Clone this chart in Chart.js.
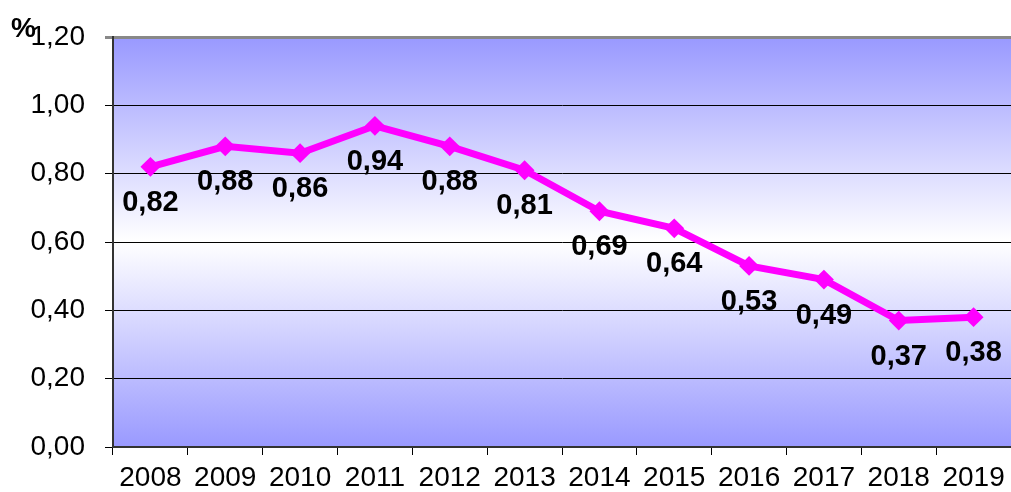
<!DOCTYPE html>
<html>
<head>
<meta charset="utf-8">
<script src="https://cdn.jsdelivr.net/npm/chart.js@4"></script>
<style>
  html, body { margin: 0; padding: 0; background: #fff; }
  #wrap { width: 1011px; height: 492px; }
</style>
</head>
<body>
<div id="wrap"><canvas id="chart" width="1011" height="492"></canvas></div>
<script>
const years = ['2008', '2009', '2010', '2011', '2012', '2013', '2014', '2015', '2016', '2017', '2018', '2019'];
const values = [0.82, 0.88, 0.86, 0.94, 0.88, 0.81, 0.69, 0.64, 0.53, 0.49, 0.37, 0.38];
const yMin = 0;
const yMax = 1.2;
const yStep = 0.2;
const unitLabel = '%';

const fmt = v => v.toFixed(2).replace('.', ',');
const FONT = '"Liberation Sans", Arial, sans-serif';

// blue-white-blue band behind the plot
const bgPlugin = {
  id: 'bg',
  beforeDraw(chart) {
    const { ctx, chartArea: a } = chart;
    const g = ctx.createLinearGradient(0, a.top, 0, a.bottom);
    g.addColorStop(0, '#9999ff');
    g.addColorStop(0.5, '#ffffff');
    g.addColorStop(1, '#9999ff');
    ctx.save();
    ctx.fillStyle = g;
    ctx.fillRect(a.left, a.top, a.right - a.left, a.bottom - a.top);
    ctx.restore();
  }
};

// values under each point + the unit sign
const labelPlugin = {
  id: 'vals',
  afterDatasetsDraw(chart) {
    const { ctx } = chart;
    const meta = chart.getDatasetMeta(0);
    ctx.save();
    ctx.fillStyle = '#000';
    ctx.font = 'bold 29px ' + FONT;
    ctx.textAlign = 'center';
    ctx.textBaseline = 'middle';
    meta.data.forEach((pt, i) => {
      ctx.fillText(fmt(values[i]), pt.x, pt.y + 36);
    });
    ctx.textAlign = 'left';
    ctx.textBaseline = 'alphabetic';
    ctx.font = 'bold 28px ' + FONT;
    ctx.fillText(unitLabel, 11, 37);
    ctx.restore();
  }
};

new Chart(document.getElementById('chart'), {
  type: 'line',
  data: {
    labels: years,
    datasets: [{
      data: values,
      borderColor: '#ff00ff',
      backgroundColor: '#ff00ff',
      borderWidth: 7,
      pointStyle: 'rectRot',
      pointRadius: 5,
      pointHoverRadius: 5,
      tension: 0
    }]
  },
  options: {
    responsive: false,
    animation: false,
    layout: { autoPadding: false, padding: { top: 37, right: 0, left: 0, bottom: 0 } },
    plugins: { legend: { display: false }, tooltip: { enabled: false } },
    scales: {
      x: {
        offset: true,
        grid: { offset: true, drawOnChartArea: false, drawTicks: true, tickLength: 8, color: '#000' },
        border: { color: '#333', width: 2 },
        ticks: { color: '#000', padding: 6, maxRotation: 0, font: { family: FONT, size: 28 } },
        afterFit(s) { s.height = 45; s.paddingLeft = 0; s.paddingRight = 0; }
      },
      y: {
        min: yMin,
        max: yMax,
        grid: {
          color: c => c.tick && c.tick.value >= yMax - 1e-9 ? '#888' : '#000',
          lineWidth: c => c.tick && c.tick.value >= yMax - 1e-9 ? 3 : 1,
          tickLength: 8
        },
        border: { color: '#333', width: 2 },
        ticks: {
          stepSize: yStep,
          color: '#000',
          padding: 20,
          font: { family: FONT, size: 28 },
          callback: v => fmt(v)
        },
        afterFit(s) { s.width = 113; }
      }
    }
  },
  plugins: [bgPlugin, labelPlugin]
});
</script>
</body>
</html>
